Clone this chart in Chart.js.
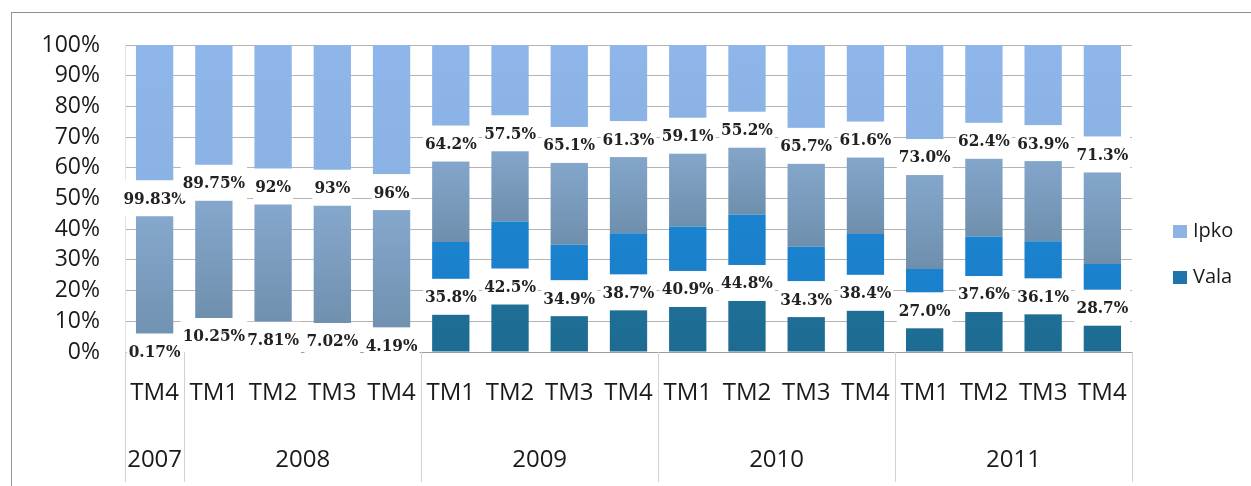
<!DOCTYPE html>
<html>
<head>
<meta charset="utf-8">
<script src="https://cdn.jsdelivr.net/npm/chart.js@4.4.1/dist/chart.umd.min.js"></script>
<style>
html,body{margin:0;padding:0;background:#fff;}
#wrap{position:relative;width:1251px;height:486px;overflow:hidden;}
#c{position:absolute;left:0;top:0;}
#frame{position:absolute;left:11px;top:12px;right:-2px;bottom:-2px;border-top:1px solid #8f8f8f;border-left:1px solid #9c9c9c;pointer-events:none;}
</style>
</head>
<body>
<div id="wrap"><canvas id="c" width="1251" height="486"></canvas><div id="frame"></div></div>
<script>
// ---- data ----
const quarters = ['TM4','TM1','TM2','TM3','TM4','TM1','TM2','TM3','TM4','TM1','TM2','TM3','TM4','TM1','TM2','TM3','TM4'];
const years = ['2007','2008','2009','2010','2011'];
const yearSpans = [1, 4, 4, 4, 4];
const ipko = [99.83, 89.75, 92, 93, 96, 64.2, 57.5, 65.1, 61.3, 59.1, 55.2, 65.7, 61.6, 73.0, 62.4, 63.9, 71.3];
const vala = [0.17, 10.25, 7.81, 7.02, 4.19, 35.8, 42.5, 34.9, 38.7, 40.9, 44.8, 34.3, 38.4, 27.0, 37.6, 36.1, 28.7];
const ipkoText = ['99.83%','89.75%','92%','93%','96%','64.2%','57.5%','65.1%','61.3%','59.1%','55.2%','65.7%','61.6%','73.0%','62.4%','63.9%','71.3%'];
const valaText = ['0.17%','10.25%','7.81%','7.02%','4.19%','35.8%','42.5%','34.9%','38.7%','40.9%','44.8%','34.3%','38.4%','27.0%','37.6%','36.1%','28.7%'];

// 100% stacked shares
const valaShare = vala.map((v, i) => v / (v + ipko[i]) * 100);
const ipkoShare = ipko.map((v, i) => v / (v + vala[i]) * 100);

function gradientFor(ctx, lowFn, highFn, stops, fallback) {
  const chart = ctx.chart;
  if (!chart.chartArea || ctx.type !== 'data') return fallback;
  const y = chart.scales.y;
  const i = ctx.dataIndex;
  const y0 = y.getPixelForValue(lowFn(i));
  const y1 = y.getPixelForValue(highFn(i));
  if (!isFinite(y0) || !isFinite(y1) || y0 === y1) return fallback;
  const g = chart.ctx.createLinearGradient(0, y0, 0, y1);
  stops.forEach(s => g.addColorStop(s[0], s[1]));
  return g;
}

const valaStops = [[0,'#1d6b91'],[0.5,'#1f6f98'],[0.5,'#1b7fc9'],[1,'#1a82cf']];
const ipkoStops = [[0,'#6e8fac'],[0.45,'#86a8ce'],[0.55,'#8bb2e4'],[1,'#8fb6ea']];

const segLabels = {
  id: 'segLabels',
  afterDatasetsDraw(chart) {
    const ctx = chart.ctx;
    ctx.save();
    ctx.font = 'bold 17px "DejaVu Serif Condensed", "DejaVu Serif", serif';
    ctx.textAlign = 'center';
    ctx.textBaseline = 'middle';
    chart.data.datasets.forEach((ds, di) => {
      const meta = chart.getDatasetMeta(di);
      meta.data.forEach((el, i) => {
        const txt = ds.labelTexts[i];
        const cx = el.x;
        const cy = (el.y + el.base) / 2;
        const w = ctx.measureText(txt).width + 4;
        ctx.fillStyle = '#ffffff';
        ctx.fillRect(cx - w / 2, cy - 18, w, 36);
        ctx.fillStyle = '#222222';
        ctx.fillText(txt, cx, cy + 1);
      });
    });
    ctx.restore();
  }
};

const yearAxis = {
  id: 'yearAxis',
  afterDraw(chart) {
    const x = chart.scales.x;
    const ctx = chart.ctx;
    const half = (x.getPixelForValue(1) - x.getPixelForValue(0)) / 2;
    ctx.save();
    ctx.strokeStyle = '#d2d2d2';
    ctx.lineWidth = 1;
    ctx.fillStyle = '#1a1a1a';
    ctx.font = '24px "Open Sans"';
    ctx.textAlign = 'center';
    ctx.textBaseline = 'middle';
    const line = (px) => {
      const p = Math.round(px) + 0.5;
      ctx.beginPath();
      ctx.moveTo(p, x.top);
      ctx.lineTo(p, x.top + 130);
      ctx.stroke();
    };
    let start = 0;
    line(x.getPixelForValue(0) - half);
    years.forEach((yr, k) => {
      const end = start + yearSpans[k] - 1;
      const left = x.getPixelForValue(start) - half;
      const right = x.getPixelForValue(end) + half;
      line(right);
      ctx.fillText(yr, (left + right) / 2, x.top + 108);
      start = end + 1;
    });
    ctx.restore();
  }
};

const sideLegend = {
  id: 'sideLegend',
  afterDraw(chart) {
    const ctx = chart.ctx;
    const order = [1, 0];
    const colors = ['#1f74ab', '#8fb3e3'];
    const left = chart.chartArea.right + 41;
    ctx.save();
    ctx.font = '20px "Open Sans"';
    ctx.textAlign = 'left';
    ctx.textBaseline = 'middle';
    order.forEach((di, k) => {
      const ds = chart.data.datasets[di];
      const cy = 231 + k * 46;
      ctx.fillStyle = colors[di];
      ctx.fillRect(left, cy - 6, 14, 13);
      ctx.fillStyle = '#1a1a1a';
      ctx.fillText(ds.label, left + 20, cy);
    });
    ctx.restore();
  }
};

new Chart(document.getElementById('c'), {
  type: 'bar',
  data: {
    labels: quarters,
    datasets: [
      {
        label: 'Vala',
        data: valaShare,
        labelTexts: valaText,
        backgroundColor: (ctx) => gradientFor(ctx, () => 0, (i) => valaShare[i], valaStops, '#1f74ab'),
        borderWidth: 0,
        categoryPercentage: 1,
        barPercentage: 0.63
      },
      {
        label: 'Ipko',
        data: ipkoShare,
        labelTexts: ipkoText,
        backgroundColor: (ctx) => gradientFor(ctx, (i) => valaShare[i], () => 100, ipkoStops, '#8fb3e3'),
        borderWidth: 0,
        categoryPercentage: 1,
        barPercentage: 0.63
      }
    ]
  },
  options: {
    responsive: false,
    animation: false,
    devicePixelRatio: 1,
    layout: { padding: { top: 45, right: 119, bottom: 0, left: 0 } },
    plugins: {
      legend: { display: false },
      tooltip: { enabled: false },
      title: { display: false }
    },
    scales: {
      x: {
        stacked: true,
        grid: { display: false, drawTicks: false },
        border: { display: true, color: '#9c9c9c' },
        ticks: {
          color: '#1a1a1a',
          font: { family: 'Open Sans', size: 24 },
          padding: 27,
          maxRotation: 0,
          autoSkip: false
        },
        afterFit(scale) { scale.height = 134; }
      },
      y: {
        stacked: true,
        min: 0,
        max: 100,
        grid: { color: '#b4b4b4', drawTicks: false },
        border: { display: true, color: '#e2e2e2' },
        ticks: {
          stepSize: 10,
          color: '#1a1a1a',
          font: { family: 'Open Sans', size: 23 },
          padding: 25,
          callback: (v) => v + '%'
        },
        afterFit(scale) { scale.width = 125; }
      }
    }
  },
  plugins: [segLabels, yearAxis, sideLegend]
});
</script>
</body>
</html>
